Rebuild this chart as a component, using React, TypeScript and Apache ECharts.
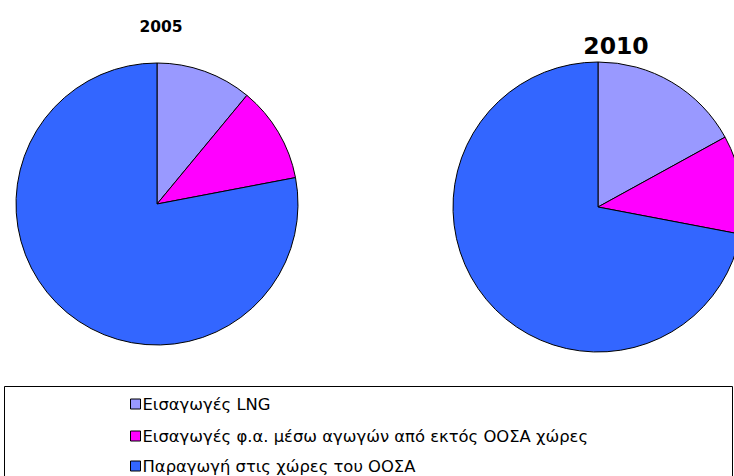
import React, { useEffect, useRef } from "react";
import * as echarts from "echarts";

const categories = [
  "Εισαγωγές LNG",
  "Εισαγωγές φ.α. μέσω αγωγών από εκτός ΟΟΣΑ χώρες",
  "Παραγωγή στις χώρες του ΟΟΣΑ",
];
const colors = ["#9999FF", "#FF00FF", "#3366FF"];
const values2005 = [11, 11, 78];
const values2010 = [17, 11, 72];
const years = ["2005", "2010"];

export default function App() {
  const ref = useRef<HTMLDivElement>(null);
  useEffect(() => {
    if (!ref.current) return;
    const chart = echarts.init(ref.current, undefined, { renderer: "svg" });
    const mk = (vals: number[]) =>
      vals.map((v, i) => ({ name: categories[i], value: v, itemStyle: { color: colors[i] } }));
    const legendTops = [396, 428, 458];
    chart.setOption({
      animation: false,
      backgroundColor: "#ffffff",
      title: [
        {
          text: years[0],
          left: 156,
          top: 14,
          textAlign: "center",
          textStyle: { fontFamily: "DejaVu Sans", fontWeight: "bold", fontSize: 15.5, color: "#000" },
        },
        {
          text: years[1],
          left: 611,
          top: 29,
          textAlign: "center",
          textStyle: { fontFamily: "DejaVu Sans", fontWeight: "bold", fontSize: 23.5, color: "#000" },
        },
      ],
      legend: categories.map((c, i) => ({
        orient: "vertical",
        left: 130,
        top: legendTops[i],
        padding: 0,
        itemWidth: 10,
        itemHeight: 10,
        icon: "rect",
        data: [c],
        textStyle: { fontFamily: "DejaVu Sans", fontSize: 16.4, color: "#000", padding: [0, 0, 0, -3] },
        itemStyle: { borderColor: "#000", borderWidth: 1 },
      })),
      graphic: [
        {
          type: "rect",
          shape: { x: 4.5, y: 386.5, width: 728, height: 100 },
          style: { fill: "none", stroke: "#000", lineWidth: 1 },
          z: -1,
        },
      ],
      series: [
        {
          type: "pie",
          center: [157, 204],
          radius: 141,
          startAngle: 90,
          clockwise: true,
          label: { show: false },
          labelLine: { show: false },
          emphasis: { disabled: true },
          itemStyle: { borderColor: "#000", borderWidth: 1 },
          data: mk(values2005),
        },
        {
          type: "pie",
          center: [598, 207],
          radius: 145,
          startAngle: 90,
          clockwise: true,
          label: { show: false },
          labelLine: { show: false },
          emphasis: { disabled: true },
          itemStyle: { borderColor: "#000", borderWidth: 1 },
          data: mk(values2010),
        },
      ],
    });
    return () => chart.dispose();
  }, []);
  return <div ref={ref} style={{ width: 734, height: 476, position: "absolute", left: 0, top: 0 }} />;
}
